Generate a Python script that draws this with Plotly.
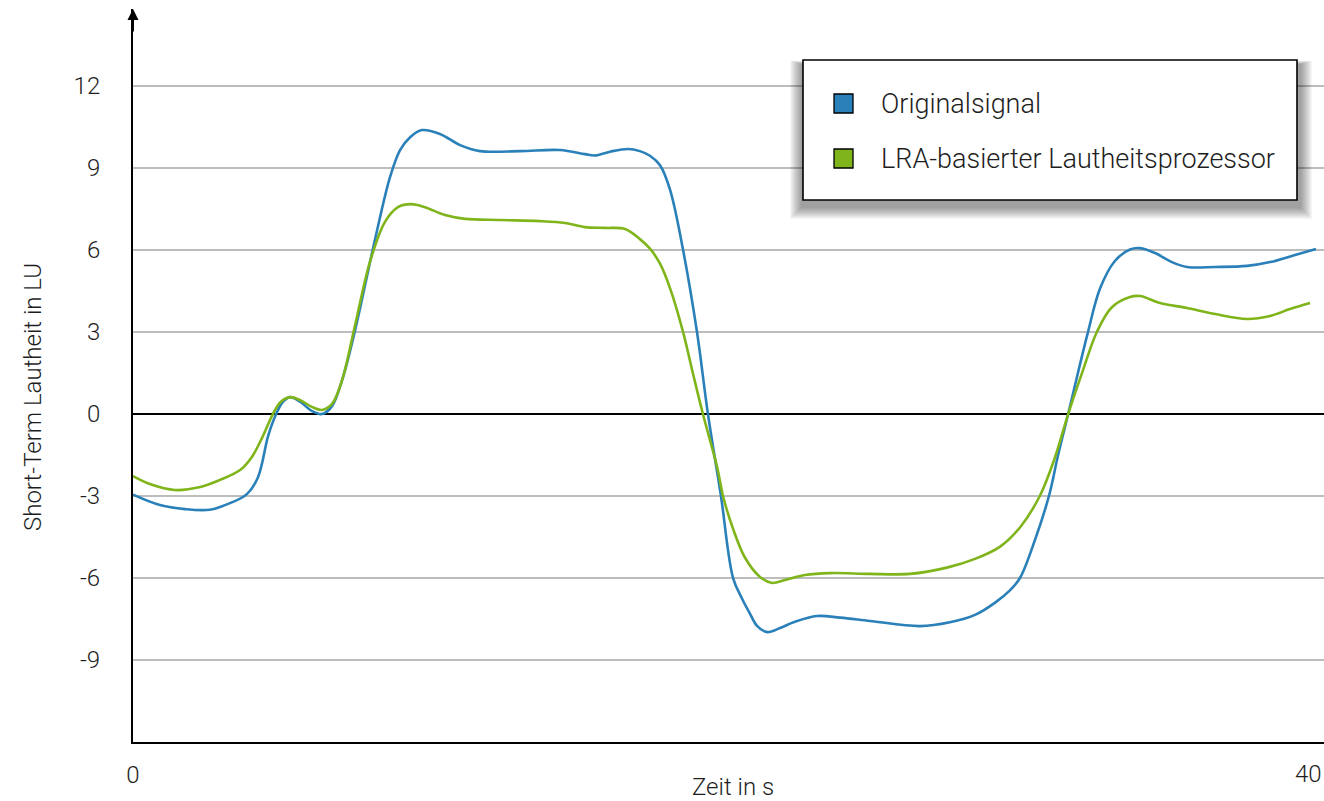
import plotly.graph_objects as go

# ---- data ----
series_names = ["Originalsignal", "LRA-basierter Lautheitsprozessor"]
series_colors = ["#2a80b9", "#7fb51b"]

t_orig = [0, 0.91, 1.76, 2.60, 3.28, 3.85, 4.23, 4.57, 4.84, 5.07, 5.31, 5.65, 6.05, 6.39,
          6.73, 7.07, 7.51, 8.18, 8.69, 9.03, 9.37, 9.77, 10.38, 11.06, 11.73, 13.09, 14.44,
          15.28, 15.62, 16.13, 16.74, 17.14, 17.48, 17.82, 18.16, 18.60, 19.07, 19.44,
          19.88, 20.29, 20.59, 20.86, 21.10, 21.44, 21.88, 22.38, 23.13, 23.91, 24.92,
          26.61, 27.62, 28.47, 29.15, 29.65, 29.99, 30.50, 30.97, 31.28, 31.62, 31.95,
          32.29, 32.70, 33.20, 33.71, 34.05, 34.56, 35.13, 35.64, 36.59, 37.67, 38.45,
          39.29, 40.0]
lu_orig = [-2.95, -3.33, -3.48, -3.50, -3.26, -2.93, -2.30, -0.80, 0.0, 0.45, 0.62, 0.45,
           0.11, 0.0, 0.29, 1.24, 3.07, 6.37, 8.67, 9.66, 10.13, 10.39, 10.25, 9.84, 9.62,
           9.62, 9.66, 9.51, 9.46, 9.60, 9.70, 9.62, 9.45, 9.1, 8.2, 6.0, 3.0, 0.0, -3.0,
           -6.0, -6.75, -7.3, -7.75, -7.98, -7.83, -7.60, -7.39, -7.45, -7.57, -7.76,
           -7.62, -7.35, -6.9, -6.45, -6.0, -4.6, -3.0, -1.5, 0.0, 1.5, 3.0, 4.6, 5.6,
           6.02, 6.07, 5.89, 5.56, 5.38, 5.38, 5.42, 5.56, 5.82, 6.04]

t_lra = [0, 0.57, 1.42, 2.27, 2.94, 3.62, 4.02, 4.36, 4.73, 5.00, 5.31, 5.65, 6.05, 6.39,
         6.73, 7.07, 7.51, 8.01, 8.52, 8.96, 9.40, 9.87, 10.55, 11.23, 12.41, 13.76,
         14.61, 15.28, 15.96, 16.64, 17.14, 17.48, 17.82, 18.16, 18.60, 18.93, 19.27,
         19.75, 19.95, 20.29, 20.69, 21.20, 21.61, 22.05, 22.72, 23.57, 24.92, 26.27,
         27.52, 28.47, 29.32, 29.99, 30.66, 31.17, 31.62, 32.12, 32.59, 33.09, 33.71,
         34.05, 34.73, 35.64, 36.59, 37.67, 38.45, 39.12, 39.80]
lu_lra = [-2.27, -2.56, -2.78, -2.67, -2.41, -2.05, -1.57, -0.88, 0.0, 0.45, 0.62, 0.51,
          0.26, 0.15, 0.37, 1.24, 3.26, 5.56, 7.03, 7.57, 7.68, 7.57, 7.28, 7.14, 7.10,
          7.06, 6.99, 6.84, 6.81, 6.77, 6.40, 6.05, 5.5, 4.6, 3.0, 1.5, 0.0, -1.94, -3.0,
          -4.2, -5.25, -5.96, -6.18, -6.07, -5.89, -5.82, -5.85, -5.85, -5.62, -5.3,
          -4.85, -4.15, -3.0, -1.6, 0.0, 1.6, 3.0, 3.9, 4.28, 4.32, 4.06, 3.88, 3.66,
          3.48, 3.59, 3.84, 4.06]

y_ticks = [-9, -6, -3, 0, 3, 6, 9, 12]
x_ticks = [0, 40]
x_title = "Zeit in s"
y_title = "Short-Term Lautheit in LU"

# ---- figure ----
W, H = 1324, 801
ML, MR, MT, MB = 133, 0, 9, 59
PW, PH = W - ML - MR, H - MT - MB
X40_PX = 1316

def px_x(p):
    return (p - ML) / PW

def px_y(p):
    return (H - MB - p) / PH

FONT = "Roboto, 'Helvetica Neue', Arial, sans-serif"
TXT = "#1e1e1e"

fig = go.Figure()
for xs, ys, name, col in [(t_orig, lu_orig, series_names[0], series_colors[0]),
                          (t_lra, lu_lra, series_names[1], series_colors[1])]:
    fig.add_trace(go.Scatter(x=xs, y=ys, mode="lines", name=name,
                             line=dict(color=col, width=2.6, shape="spline", smoothing=1.0),
                             showlegend=False))

shapes = []
annotations = []

# legend box with soft drop shadow
bx0, bx1, by0, by1 = 803, 1297, 60, 200
for i in range(12):
    shapes.append(dict(type="rect", xref="paper", yref="paper", layer="above",
                       x0=px_x(bx0 - 2 - i), x1=px_x(bx1 + 4 + i),
                       y0=px_y(by1 + 8 + i), y1=px_y(by0 + 4 - i * 0.3),
                       line=dict(width=0), fillcolor="rgba(0,0,0,0.035)"))
shapes.append(dict(type="rect", xref="paper", yref="paper", layer="above",
                   x0=px_x(bx0), x1=px_x(bx1), y0=px_y(by1), y1=px_y(by0),
                   line=dict(color="black", width=1.6), fillcolor="white"))
item_y = [103, 158]
for k in range(2):
    cy = item_y[k]
    shapes.append(dict(type="rect", xref="paper", yref="paper", layer="above",
                       x0=px_x(834), x1=px_x(853), y0=px_y(cy + 10), y1=px_y(cy - 9),
                       line=dict(color="black", width=1.3), fillcolor=series_colors[k]))
    annotations.append(dict(xref="paper", yref="paper", x=px_x(879), y=px_y(cy + 1),
                            xanchor="left", yanchor="middle", showarrow=False,
                            text=series_names[k],
                            font=dict(family=FONT, size=27, color=TXT, weight=300)))

# last x tick label sits at the right page edge (kept fully inside the page)
annotations.append(dict(xref="paper", yref="paper", x=1.0, y=px_y(774),
                        xanchor="right", yanchor="middle", showarrow=False,
                        text=str(x_ticks[-1]),
                        font=dict(family=FONT, size=24, color=TXT, weight=300)))
# axis titles
annotations.append(dict(xref="paper", yref="paper", x=px_x(733), y=px_y(787),
                        xanchor="center", yanchor="middle", showarrow=False, text=x_title,
                        font=dict(family=FONT, size=24, color=TXT, weight=300)))
annotations.append(dict(xref="paper", yref="paper", x=px_x(33), y=px_y(397),
                        xanchor="center", yanchor="middle", showarrow=False, text=y_title,
                        textangle=-90, font=dict(family=FONT, size=24, color=TXT, weight=300)))
# arrow at top of y axis
annotations.append(dict(xref="x", yref="paper", x=0, y=1.0, ax=0, ay=24,
                        showarrow=True, arrowhead=2, arrowsize=1.1, arrowwidth=2,
                        arrowcolor="black", text=""))

fig.update_layout(
    width=W, height=H,
    margin=dict(l=ML, r=MR, t=MT, b=MB),
    paper_bgcolor="white", plot_bgcolor="white",
    font=dict(family=FONT, color=TXT, size=24, weight=300),
    shapes=shapes, annotations=annotations,
    showlegend=False,
)
fig.update_xaxes(range=[0, 40.0 * PW / (X40_PX - ML)], tickvals=x_ticks,
                 ticktext=[str(x_ticks[0]), ""], showgrid=False, zeroline=False,
                 showline=True, linecolor="black", linewidth=2, ticks="",
                 ticklabelstandoff=10, tickfont=dict(size=24))
fig.update_yaxes(range=[-12, -12 + PH / 27.33], tickvals=y_ticks,
                 ticktext=[str(v) for v in y_ticks], showgrid=True, gridcolor="#bdbdbd",
                 gridwidth=1.5, zeroline=True, zerolinecolor="black", zerolinewidth=2,
                 showline=True, linecolor="black", linewidth=2, ticks="",
                 ticklabelstandoff=26, tickfont=dict(size=24))

fig.write_html("out.html", config={"displayModeBar": False},
               post_script="document.body.style.margin='0';document.body.style.overflow='hidden';")
